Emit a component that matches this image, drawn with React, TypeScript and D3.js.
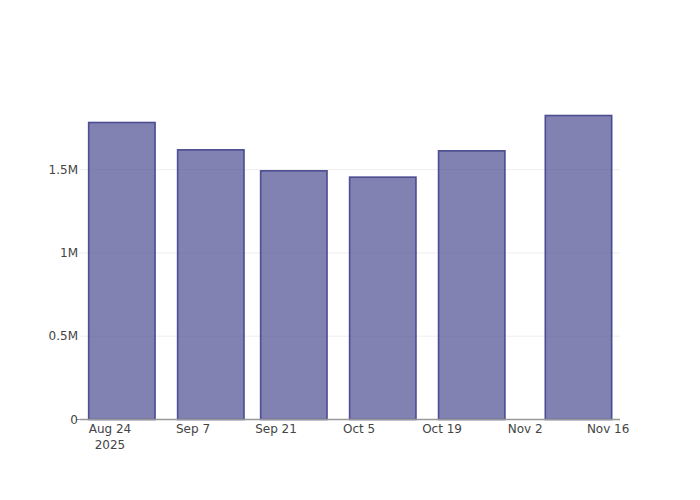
import React from "react";
import * as d3 from "d3";

const barDates = ["2025-08-26", "2025-09-10", "2025-09-24", "2025-10-09", "2025-10-24", "2025-11-11"];
const barValues = [1783000, 1619000, 1493000, 1455000, 1613000, 1825000];
const xTickDates = ["2025-08-24", "2025-09-07", "2025-09-21", "2025-10-05", "2025-10-19", "2025-11-02", "2025-11-16"];
const xTickLabels = ["Aug 24", "Sep 7", "Sep 21", "Oct 5", "Oct 19", "Nov 2", "Nov 16"];
const yTicks = [0, 500000, 1000000, 1500000];
const yTickLabels = ["0", "0.5M", "1M", "1.5M"];

const parse = (s: string) => new Date(s + "T00:00:00Z");
const DAY = 86400000;

export default function App() {
  const W = 700, H = 500;
  const left = 80, right = 620, top = 100, bottom = 419.5;
  const d0 = parse("2025-08-24").getTime();
  const x = d3.scaleUtc()
    .domain([new Date(d0 - 5.06 * DAY), new Date(d0 + 86.0 * DAY)])
    .range([left, right]);
  const y = d3.scaleLinear().domain([0, 1918000]).range([bottom, top]);
  const barW = x(new Date(d0 + 11.2 * DAY)) - x(new Date(d0));
  const font = "'DejaVu Sans', sans-serif";

  return (
    <svg width={W} height={H} style={{ position: "absolute", left: 0, top: 0 }}>
      <rect width={W} height={H} fill="#fff" />
      {yTicks.map((t, i) =>
        i === 0 ? null : (
          <line key={"g" + i} x1={left} x2={right} y1={y(t)} y2={y(t)} stroke="#eeeeee" strokeWidth={1} />
        )
      )}
      {barDates.map((d, i) => {
        const cx = x(parse(d));
        return (
          <rect
            key={"b" + i}
            x={cx - barW / 2}
            y={y(barValues[i])}
            width={barW}
            height={y(0) - y(barValues[i])}
            fill="rgba(75,75,145,0.7)"
            stroke="rgba(65,65,140,0.9)"
            strokeWidth={1.6}
          />
        );
      })}
      <line x1={left} x2={right} y1={bottom} y2={bottom} stroke="#999" strokeWidth={1.5} />
      <line x1={left - 4} x2={left} y1={bottom} y2={bottom} stroke="#999" strokeWidth={1} />
      {yTicks.map((t, i) => (
        <text key={"yl" + i} x={left - 2} y={y(t) + 4} textAnchor="end" fontFamily={font} fontSize={12} fill="#444">
          {yTickLabels[i]}
        </text>
      ))}
      {xTickDates.map((d, i) => (
        <text key={"xl" + i} x={x(parse(d))} y={433} textAnchor="middle" fontFamily={font} fontSize={12} fill="#444">
          {xTickLabels[i]}
        </text>
      ))}
      <text x={x(parse(xTickDates[0]))} y={449} textAnchor="middle" fontFamily={font} fontSize={12} fill="#444">
        2025
      </text>
    </svg>
  );
}
